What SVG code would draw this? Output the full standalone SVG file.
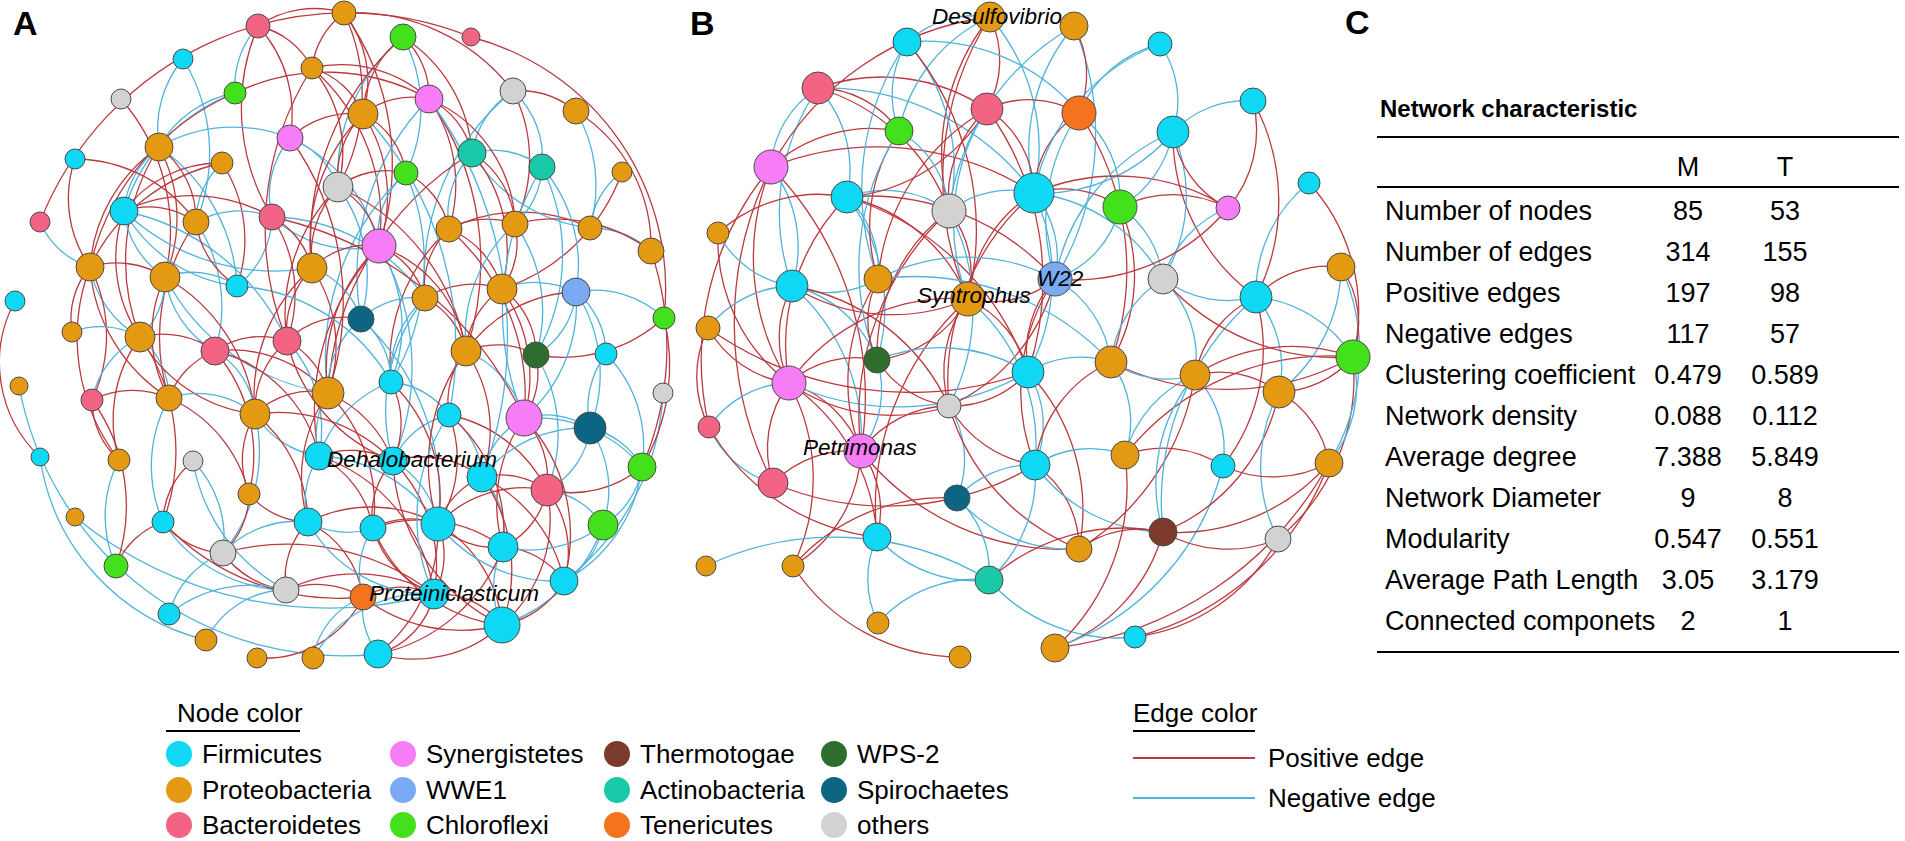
<svg xmlns="http://www.w3.org/2000/svg" width="1905" height="841" viewBox="0 0 1905 841">
<style>
.p{fill:none;stroke:#BB3A3F;stroke-width:1.3}
.n{fill:none;stroke:#4FB3DB;stroke-width:1.3}
.nd circle{stroke:#4a4a4a;stroke-width:1}
.F{fill:#0ED8F3}.P{fill:#E39A12}.B{fill:#F26384}.S{fill:#F77DF6}.W{fill:#7BAAF4}.C{fill:#43E01C}.Th{fill:#7B3A2A}.A{fill:#19C9A7}.T{fill:#F5721F}.WP{fill:#2F6D2F}.Sp{fill:#0C6683}.O{fill:#D2D2D2}
text{font-family:"Liberation Sans",Arial,sans-serif;fill:#000}
.lab{font-size:22.5px;font-style:italic}
.panel{font-size:34px;font-weight:bold}
.tb{font-size:27px}
.th{font-size:24px;font-weight:bold}
.lg{font-size:26px}
.rule{stroke:#000;stroke-width:2}
</style>
<rect width="1905" height="841" fill="#fff"/>
<text class="panel" x="13" y="35">A</text>
<text class="panel" x="690" y="35">B</text>
<text class="panel" x="1345" y="34">C</text>
<g id="edges-A">
<path class="p" d="M40 222A330 330 0 0 1 471 37"/>
<path class="p" d="M471 37A260 260 0 0 1 664 318"/>
<path class="p" d="M15 301A130 130 0 0 0 40 457"/>
<path class="n" d="M19 386A330 330 0 0 0 378 654"/>
<path class="n" d="M40 457A220 220 0 0 0 206 640"/>
<path class="n" d="M75 517A400 400 0 0 0 434 594"/>
<path class="n" d="M663 393A250 250 0 0 1 564 581"/>
<path class="p" d="M664 318A200 200 0 0 1 642 467"/>
<path class="p" d="M651 251A300 300 0 0 1 642 467"/>
<path class="n" d="M576 111A150 150 0 0 1 590 228"/>
<path class="p" d="M576 111A160 160 0 0 1 651 251"/>
<path class="n" d="M622 172A80 80 0 0 0 590 228"/>
<path class="p" d="M622 172A190 190 0 0 1 502 289"/>
<path class="n" d="M590 228A90 90 0 0 1 651 251"/>
<path class="p" d="M590 228A160 160 0 0 0 449 229"/>
<path class="n" d="M590 228A160 160 0 0 1 472 153"/>
<path class="p" d="M651 251A160 160 0 0 0 515 224"/>
<path class="p" d="M576 111A90 90 0 0 0 513 91"/>
<path class="p" d="M258 26A130 130 0 0 1 290 138"/>
<path class="p" d="M258 26A210 210 0 0 0 272 217"/>
<path class="n" d="M258 26A90 90 0 0 0 235 93"/>
<path class="p" d="M258 26A80 80 0 0 1 312 68"/>
<path class="p" d="M258 26A100 100 0 0 1 344 13"/>
<path class="n" d="M183 59A110 110 0 0 0 159 147"/>
<path class="n" d="M183 59A180 180 0 0 1 196 222"/>
<path class="n" d="M235 93A110 110 0 0 0 159 147"/>
<path class="n" d="M235 93A180 180 0 0 0 124 211"/>
<path class="p" d="M235 93A250 250 0 0 0 90 267"/>
<path class="p" d="M235 93A210 210 0 0 1 429 99"/>
<path class="p" d="M121 99A200 200 0 0 1 165 277"/>
<path class="n" d="M290 138A150 150 0 0 0 159 147"/>
<path class="p" d="M290 138A90 90 0 0 1 363 114"/>
<path class="n" d="M290 138A90 90 0 0 0 272 217"/>
<path class="n" d="M290 138A80 80 0 0 1 338 187"/>
<path class="n" d="M290 138A160 160 0 0 1 379 246"/>
<path class="p" d="M159 147A160 160 0 0 0 90 267"/>
<path class="p" d="M159 147A150 150 0 0 1 165 277"/>
<path class="n" d="M159 147A90 90 0 0 0 124 211"/>
<path class="n" d="M159 147A180 180 0 0 1 237 286"/>
<path class="p" d="M159 147A210 210 0 0 0 140 337"/>
<path class="p" d="M75 159A120 120 0 0 0 90 267"/>
<path class="p" d="M75 159A150 150 0 0 1 196 222"/>
<path class="p" d="M222 163A120 120 0 0 0 124 211"/>
<path class="p" d="M222 163A190 190 0 0 0 90 267"/>
<path class="n" d="M222 163A80 80 0 0 0 196 222"/>
<path class="p" d="M222 163A140 140 0 0 1 237 286"/>
<path class="n" d="M40 222A80 80 0 0 0 90 267"/>
<path class="n" d="M124 211A90 90 0 0 0 165 277"/>
<path class="n" d="M124 211A150 150 0 0 0 237 286"/>
<path class="p" d="M124 211A80 80 0 0 1 196 222"/>
<path class="p" d="M124 211A160 160 0 0 1 272 217"/>
<path class="p" d="M124 211A140 140 0 0 0 140 337"/>
<path class="n" d="M124 211A220 220 0 0 0 312 268"/>
<path class="n" d="M124 211A230 230 0 0 1 287 341"/>
<path class="n" d="M196 222A150 150 0 0 1 215 351"/>
<path class="n" d="M196 222A90 90 0 0 1 272 217"/>
<path class="p" d="M196 222A90 90 0 0 0 237 286"/>
<path class="p" d="M196 222A200 200 0 0 0 169 398"/>
<path class="n" d="M272 217A90 90 0 0 1 237 286"/>
<path class="n" d="M272 217A120 120 0 0 0 379 246"/>
<path class="p" d="M272 217A80 80 0 0 1 312 268"/>
<path class="n" d="M272 217A190 190 0 0 1 425 298"/>
<path class="p" d="M272 217A140 140 0 0 1 287 341"/>
<path class="p" d="M90 267A90 90 0 0 1 165 277"/>
<path class="n" d="M90 267A100 100 0 0 0 140 337"/>
<path class="p" d="M90 267A150 150 0 0 1 92 400"/>
<path class="p" d="M90 267A170 170 0 0 0 169 398"/>
<path class="n" d="M165 277A80 80 0 0 1 140 337"/>
<path class="n" d="M165 277A100 100 0 0 0 215 351"/>
<path class="n" d="M165 277A80 80 0 0 1 237 286"/>
<path class="p" d="M165 277A180 180 0 0 1 255 414"/>
<path class="p" d="M344 13A80 80 0 0 0 312 68"/>
<path class="p" d="M344 13A110 110 0 0 1 363 114"/>
<path class="p" d="M344 13A190 190 0 0 1 338 187"/>
<path class="p" d="M344 13A200 200 0 0 1 513 91"/>
<path class="p" d="M344 13A260 260 0 0 1 379 246"/>
<path class="p" d="M403 37A100 100 0 0 0 363 114"/>
<path class="n" d="M403 37A180 180 0 0 0 338 187"/>
<path class="p" d="M403 37A270 270 0 0 0 312 268"/>
<path class="n" d="M403 37A150 150 0 0 1 406 173"/>
<path class="p" d="M403 37A150 150 0 0 1 472 153"/>
<path class="p" d="M312 68A80 80 0 0 1 363 114"/>
<path class="p" d="M312 68A130 130 0 0 1 338 187"/>
<path class="p" d="M312 68A200 200 0 0 1 379 246"/>
<path class="p" d="M312 68A130 130 0 0 1 429 99"/>
<path class="n" d="M513 91A90 90 0 0 0 472 153"/>
<path class="n" d="M513 91A90 90 0 0 1 542 167"/>
<path class="n" d="M513 91A240 240 0 0 0 425 298"/>
<path class="p" d="M513 91A150 150 0 0 1 515 224"/>
<path class="p" d="M429 99A80 80 0 0 0 363 114"/>
<path class="p" d="M429 99A80 80 0 0 1 472 153"/>
<path class="p" d="M429 99A150 150 0 0 1 449 229"/>
<path class="p" d="M429 99A280 280 0 0 1 466 351"/>
<path class="n" d="M429 99A250 250 0 0 0 361 319"/>
<path class="p" d="M363 114A90 90 0 0 0 338 187"/>
<path class="p" d="M363 114A180 180 0 0 0 312 268"/>
<path class="p" d="M363 114A150 150 0 0 1 379 246"/>
<path class="p" d="M363 114A80 80 0 0 1 406 173"/>
<path class="n" d="M472 153A80 80 0 0 1 542 167"/>
<path class="p" d="M472 153A90 90 0 0 1 515 224"/>
<path class="p" d="M472 153A150 150 0 0 1 502 289"/>
<path class="p" d="M472 153A300 300 0 0 0 328 393"/>
<path class="n" d="M542 167A80 80 0 0 1 515 224"/>
<path class="n" d="M542 167A200 200 0 0 1 536 355"/>
<path class="n" d="M542 167A280 280 0 0 0 524 418"/>
<path class="n" d="M542 167A150 150 0 0 1 576 292"/>
<path class="n" d="M406 173A80 80 0 0 0 379 246"/>
<path class="p" d="M406 173A80 80 0 0 0 338 187"/>
<path class="p" d="M406 173A80 80 0 0 1 449 229"/>
<path class="n" d="M406 173A250 250 0 0 0 328 393"/>
<path class="n" d="M406 173A230 230 0 0 1 391 382"/>
<path class="p" d="M338 187A100 100 0 0 0 312 268"/>
<path class="p" d="M338 187A180 180 0 0 0 287 341"/>
<path class="n" d="M338 187A150 150 0 0 1 361 319"/>
<path class="p" d="M449 229A80 80 0 0 1 515 224"/>
<path class="p" d="M449 229A90 90 0 0 1 502 289"/>
<path class="p" d="M449 229A180 180 0 0 0 391 382"/>
<path class="p" d="M449 229A220 220 0 0 1 524 418"/>
<path class="p" d="M515 224A80 80 0 0 1 502 289"/>
<path class="n" d="M515 224A150 150 0 0 0 466 351"/>
<path class="n" d="M515 224A150 150 0 0 1 536 355"/>
<path class="p" d="M379 246A80 80 0 0 0 312 268"/>
<path class="p" d="M379 246A80 80 0 0 1 425 298"/>
<path class="p" d="M379 246A170 170 0 0 0 328 393"/>
<path class="n" d="M379 246A150 150 0 0 1 391 382"/>
<path class="p" d="M379 246A240 240 0 0 0 319 456"/>
<path class="n" d="M379 246A240 240 0 0 1 393 461"/>
<path class="p" d="M312 268A90 90 0 0 0 287 341"/>
<path class="p" d="M312 268A170 170 0 0 0 255 414"/>
<path class="n" d="M312 268A80 80 0 0 1 361 319"/>
<path class="p" d="M312 268A140 140 0 0 1 328 393"/>
<path class="n" d="M72 332A80 80 0 0 1 140 337"/>
<path class="p" d="M72 332A80 80 0 0 1 90 267"/>
<path class="p" d="M140 337A90 90 0 0 1 215 351"/>
<path class="n" d="M140 337A90 90 0 0 0 92 400"/>
<path class="n" d="M140 337A80 80 0 0 1 169 398"/>
<path class="p" d="M140 337A200 200 0 0 1 163 522"/>
<path class="p" d="M215 351A80 80 0 0 1 287 341"/>
<path class="p" d="M215 351A80 80 0 0 0 169 398"/>
<path class="n" d="M215 351A80 80 0 0 1 255 414"/>
<path class="p" d="M215 351A130 130 0 0 1 328 393"/>
<path class="p" d="M215 351A160 160 0 0 1 249 494"/>
<path class="p" d="M287 341A90 90 0 0 0 255 414"/>
<path class="n" d="M287 341A130 130 0 0 1 319 456"/>
<path class="p" d="M287 341A80 80 0 0 1 328 393"/>
<path class="p" d="M92 400A90 90 0 0 1 169 398"/>
<path class="p" d="M92 400A180 180 0 0 1 116 566"/>
<path class="p" d="M92 400A80 80 0 0 0 119 460"/>
<path class="p" d="M169 398A140 140 0 0 1 249 494"/>
<path class="n" d="M169 398A140 140 0 0 0 163 522"/>
<path class="n" d="M255 414A90 90 0 0 0 319 456"/>
<path class="p" d="M255 414A140 140 0 0 1 308 522"/>
<path class="p" d="M255 414A90 90 0 0 0 249 494"/>
<path class="n" d="M255 414A160 160 0 0 1 223 553"/>
<path class="p" d="M255 414A160 160 0 0 1 393 461"/>
<path class="n" d="M119 460A120 120 0 0 0 116 566"/>
<path class="p" d="M119 460A140 140 0 0 1 140 337"/>
<path class="p" d="M193 461A80 80 0 0 0 163 522"/>
<path class="n" d="M193 461A180 180 0 0 0 286 590"/>
<path class="n" d="M193 461A110 110 0 0 1 223 553"/>
<path class="p" d="M249 494A80 80 0 0 1 223 553"/>
<path class="p" d="M249 494A80 80 0 0 0 308 522"/>
<path class="p" d="M163 522A80 80 0 0 0 223 553"/>
<path class="n" d="M163 522A150 150 0 0 0 286 590"/>
<path class="p" d="M163 522A240 240 0 0 0 363 597"/>
<path class="p" d="M223 553A90 90 0 0 0 286 590"/>
<path class="p" d="M223 553A240 240 0 0 1 434 594"/>
<path class="n" d="M223 553A100 100 0 0 1 308 522"/>
<path class="n" d="M425 298A80 80 0 0 0 361 319"/>
<path class="p" d="M425 298A80 80 0 0 1 466 351"/>
<path class="n" d="M425 298A100 100 0 0 0 391 382"/>
<path class="p" d="M425 298A90 90 0 0 1 502 289"/>
<path class="p" d="M502 289A80 80 0 0 0 466 351"/>
<path class="p" d="M502 289A80 80 0 0 1 536 355"/>
<path class="n" d="M502 289A90 90 0 0 1 576 292"/>
<path class="p" d="M502 289A150 150 0 0 1 524 418"/>
<path class="n" d="M361 319A80 80 0 0 1 391 382"/>
<path class="n" d="M361 319A90 90 0 0 0 328 393"/>
<path class="p" d="M466 351A80 80 0 0 1 536 355"/>
<path class="p" d="M466 351A80 80 0 0 0 449 415"/>
<path class="n" d="M466 351A100 100 0 0 1 524 418"/>
<path class="p" d="M466 351A140 140 0 0 1 482 477"/>
<path class="p" d="M536 355A80 80 0 0 1 524 418"/>
<path class="n" d="M536 355A80 80 0 0 0 576 292"/>
<path class="n" d="M536 355A150 150 0 0 1 547 490"/>
<path class="p" d="M536 355A150 150 0 0 0 664 318"/>
<path class="n" d="M391 382A80 80 0 0 1 449 415"/>
<path class="p" d="M391 382A90 90 0 0 1 393 461"/>
<path class="n" d="M391 382A120 120 0 0 0 319 456"/>
<path class="n" d="M328 393A80 80 0 0 0 319 456"/>
<path class="p" d="M328 393A150 150 0 0 0 308 522"/>
<path class="p" d="M328 393A160 160 0 0 1 373 528"/>
<path class="n" d="M449 415A80 80 0 0 0 393 461"/>
<path class="n" d="M449 415A80 80 0 0 1 482 477"/>
<path class="p" d="M449 415A120 120 0 0 1 438 524"/>
<path class="p" d="M449 415A140 140 0 0 1 547 490"/>
<path class="n" d="M524 418A80 80 0 0 0 482 477"/>
<path class="p" d="M524 418A90 90 0 0 1 547 490"/>
<path class="n" d="M524 418A80 80 0 0 1 590 428"/>
<path class="n" d="M524 418A140 140 0 0 1 642 467"/>
<path class="p" d="M524 418A150 150 0 0 0 503 547"/>
<path class="n" d="M524 418A150 150 0 0 0 576 292"/>
<path class="n" d="M319 456A80 80 0 0 0 308 522"/>
<path class="p" d="M319 456A100 100 0 0 1 373 528"/>
<path class="n" d="M319 456A150 150 0 0 1 438 524"/>
<path class="p" d="M393 461A80 80 0 0 0 373 528"/>
<path class="n" d="M393 461A90 90 0 0 1 438 524"/>
<path class="p" d="M393 461A150 150 0 0 1 434 594"/>
<path class="p" d="M482 477A80 80 0 0 0 438 524"/>
<path class="n" d="M482 477A80 80 0 0 1 503 547"/>
<path class="p" d="M482 477A80 80 0 0 1 547 490"/>
<path class="p" d="M482 477A150 150 0 0 1 564 581"/>
<path class="p" d="M547 490A80 80 0 0 1 503 547"/>
<path class="n" d="M547 490A80 80 0 0 0 590 428"/>
<path class="p" d="M547 490A110 110 0 0 0 642 467"/>
<path class="n" d="M547 490A80 80 0 0 1 603 525"/>
<path class="p" d="M547 490A100 100 0 0 1 564 581"/>
<path class="n" d="M308 522A80 80 0 0 0 373 528"/>
<path class="p" d="M308 522A80 80 0 0 0 286 590"/>
<path class="p" d="M308 522A100 100 0 0 1 363 597"/>
<path class="p" d="M373 528A80 80 0 0 1 438 524"/>
<path class="p" d="M373 528A100 100 0 0 0 434 594"/>
<path class="n" d="M373 528A80 80 0 0 0 363 597"/>
<path class="p" d="M438 524A80 80 0 0 0 503 547"/>
<path class="p" d="M438 524A130 130 0 0 1 502 625"/>
<path class="p" d="M438 524A80 80 0 0 1 434 594"/>
<path class="n" d="M438 524A150 150 0 0 0 564 581"/>
<path class="p" d="M503 547A80 80 0 0 1 564 581"/>
<path class="n" d="M503 547A90 90 0 0 0 502 625"/>
<path class="n" d="M503 547A120 120 0 0 0 603 525"/>
<path class="n" d="M576 292A80 80 0 0 1 606 354"/>
<path class="n" d="M576 292A100 100 0 0 1 664 318"/>
<path class="n" d="M576 292A150 150 0 0 1 590 428"/>
<path class="p" d="M576 292A140 140 0 0 0 466 351"/>
<path class="n" d="M606 354A90 90 0 0 0 590 428"/>
<path class="n" d="M606 354A130 130 0 0 1 642 467"/>
<path class="n" d="M590 428A80 80 0 0 1 642 467"/>
<path class="n" d="M590 428A110 110 0 0 1 603 525"/>
<path class="n" d="M590 428A130 130 0 0 0 482 477"/>
<path class="n" d="M642 467A80 80 0 0 1 603 525"/>
<path class="n" d="M642 467A150 150 0 0 1 564 581"/>
<path class="n" d="M603 525A80 80 0 0 1 564 581"/>
<path class="n" d="M603 525A160 160 0 0 1 502 625"/>
<path class="p" d="M286 590A90 90 0 0 1 363 597"/>
<path class="p" d="M286 590A160 160 0 0 1 434 594"/>
<path class="n" d="M286 590A130 130 0 0 0 169 614"/>
<path class="p" d="M363 597A80 80 0 0 1 434 594"/>
<path class="p" d="M363 597A160 160 0 0 0 502 625"/>
<path class="n" d="M363 597A80 80 0 0 0 378 654"/>
<path class="p" d="M434 594A80 80 0 0 1 502 625"/>
<path class="p" d="M434 594A80 80 0 0 1 378 654"/>
<path class="p" d="M502 625A130 130 0 0 1 378 654"/>
<path class="p" d="M502 625A90 90 0 0 0 564 581"/>
<path class="n" d="M169 614A90 90 0 0 1 223 553"/>
<path class="p" d="M257 658A110 110 0 0 0 363 597"/>
<path class="n" d="M313 658A130 130 0 0 1 434 594"/>
<path class="n" d="M313 658A80 80 0 0 1 363 597"/>
<path class="n" d="M206 640A90 90 0 0 1 286 590"/>
<path class="p" d="M378 654A160 160 0 0 0 438 524"/>
<path class="p" d="M378 654A170 170 0 0 0 503 547"/>
<path class="p" d="M116 566A80 80 0 0 1 163 522"/>
<path class="p" d="M272 217A360 360 0 0 1 524 418"/>
<path class="n" d="M237 286A190 190 0 0 1 391 382"/>
<path class="p" d="M287 341A170 170 0 0 0 393 461"/>
<path class="n" d="M361 319A240 240 0 0 1 438 524"/>
<path class="p" d="M338 187A220 220 0 0 1 466 351"/>
<path class="n" d="M363 114A340 340 0 0 1 449 415"/>
<path class="p" d="M290 138A280 280 0 0 1 328 393"/>
<path class="n" d="M429 99A400 400 0 0 1 482 477"/>
<path class="p" d="M312 68A300 300 0 0 0 287 341"/>
<path class="n" d="M165 277A220 220 0 0 0 328 393"/>
<path class="p" d="M140 337A150 150 0 0 0 255 414"/>
<path class="p" d="M328 393A120 120 0 0 1 393 461"/>
<path class="p" d="M319 456A90 90 0 0 1 393 461"/>
<path class="p" d="M393 461A100 100 0 0 1 482 477"/>
<path class="p" d="M391 382A160 160 0 0 1 438 524"/>
<path class="p" d="M449 415A150 150 0 0 1 503 547"/>
<path class="p" d="M482 477A160 160 0 0 1 502 625"/>
<path class="p" d="M438 524A120 120 0 0 1 547 490"/>
<path class="p" d="M373 528A140 140 0 0 1 503 547"/>
<path class="p" d="M308 522A140 140 0 0 1 438 524"/>
<path class="p" d="M319 456A170 170 0 0 1 434 594"/>
<path class="p" d="M393 461A190 190 0 0 0 502 625"/>
<path class="p" d="M373 528A160 160 0 0 0 502 625"/>
<path class="n" d="M308 522A140 140 0 0 0 434 594"/>
<path class="p" d="M466 351A190 190 0 0 0 438 524"/>
<path class="n" d="M425 298A180 180 0 0 0 393 461"/>
<path class="p" d="M379 246A130 130 0 0 1 466 351"/>
<path class="p" d="M449 229A80 80 0 0 0 425 298"/>
<path class="n" d="M472 153A90 90 0 0 0 449 229"/>
<path class="p" d="M429 99A140 140 0 0 1 515 224"/>
<path class="p" d="M403 37A80 80 0 0 1 429 99"/>
<path class="p" d="M338 187A80 80 0 0 1 379 246"/>
<path class="p" d="M287 341A80 80 0 0 1 361 319"/>
<path class="p" d="M255 414A80 80 0 0 1 328 393"/>
<path class="p" d="M215 351A140 140 0 0 1 319 456"/>
<path class="n" d="M169 398A90 90 0 0 1 255 414"/>
<path class="p" d="M165 277A130 130 0 0 0 169 398"/>
<path class="p" d="M90 267A200 200 0 0 0 119 460"/>
<path class="p" d="M159 147A90 90 0 0 1 196 222"/>
<path class="p" d="M547 490A140 140 0 0 1 502 625"/>
<path class="p" d="M524 418A170 170 0 0 1 564 581"/>
<path class="n" d="M449 415A180 180 0 0 0 434 594"/>
</g>
<g id="edges-B">
<path class="n" d="M818 88A120 120 0 0 1 847 197"/>
<path class="n" d="M818 88A100 100 0 0 0 771 167"/>
<path class="p" d="M818 88A190 190 0 0 1 987 109"/>
<path class="p" d="M818 88A100 100 0 0 1 899 131"/>
<path class="p" d="M818 88A200 200 0 0 1 949 211"/>
<path class="n" d="M818 88A260 260 0 0 1 1034 193"/>
<path class="n" d="M818 88A220 220 0 0 0 792 286"/>
<path class="p" d="M771 167A240 240 0 0 0 789 383"/>
<path class="p" d="M771 167A350 350 0 0 0 773 483"/>
<path class="p" d="M771 167A330 330 0 0 1 861 451"/>
<path class="p" d="M771 167A300 300 0 0 0 709 427"/>
<path class="p" d="M771 167A290 290 0 0 1 1034 193"/>
<path class="n" d="M771 167A130 130 0 0 1 792 286"/>
<path class="p" d="M771 167A150 150 0 0 1 899 131"/>
<path class="p" d="M718 233A150 150 0 0 1 847 197"/>
<path class="n" d="M718 233A100 100 0 0 0 792 286"/>
<path class="n" d="M847 197A110 110 0 0 1 949 211"/>
<path class="n" d="M847 197A100 100 0 0 1 878 279"/>
<path class="p" d="M847 197A170 170 0 0 1 968 299"/>
<path class="p" d="M847 197A250 250 0 0 1 1055 279"/>
<path class="n" d="M847 197A180 180 0 0 1 877 360"/>
<path class="p" d="M847 197A180 180 0 0 0 987 109"/>
<path class="p" d="M847 197A280 280 0 0 1 1028 372"/>
<path class="p" d="M792 286A110 110 0 0 0 789 383"/>
<path class="n" d="M792 286A100 100 0 0 0 878 279"/>
<path class="n" d="M792 286A120 120 0 0 1 877 360"/>
<path class="p" d="M792 286A210 210 0 0 1 949 406"/>
<path class="p" d="M792 286A190 190 0 0 0 968 299"/>
<path class="n" d="M792 286A200 200 0 0 1 861 451"/>
<path class="n" d="M708 328A110 110 0 0 1 792 286"/>
<path class="p" d="M708 328A350 350 0 0 0 1028 372"/>
<path class="n" d="M709 427A100 100 0 0 1 789 383"/>
<path class="p" d="M789 383A110 110 0 0 0 773 483"/>
<path class="p" d="M789 383A110 110 0 0 1 861 451"/>
<path class="p" d="M789 383A200 200 0 0 1 877 537"/>
<path class="p" d="M789 383A100 100 0 0 1 877 360"/>
<path class="p" d="M789 383A200 200 0 0 1 968 299"/>
<path class="n" d="M789 383A260 260 0 0 0 1028 372"/>
<path class="p" d="M789 383A180 180 0 0 0 949 406"/>
<path class="p" d="M789 383A200 200 0 0 1 793 566"/>
<path class="p" d="M773 483A110 110 0 0 1 861 451"/>
<path class="p" d="M773 483A290 290 0 0 0 1035 465"/>
<path class="n" d="M773 483A100 100 0 0 1 709 427"/>
<path class="p" d="M861 451A100 100 0 0 1 877 537"/>
<path class="p" d="M861 451A110 110 0 0 1 949 406"/>
<path class="n" d="M861 451A100 100 0 0 0 877 360"/>
<path class="p" d="M861 451A190 190 0 0 1 878 279"/>
<path class="p" d="M861 451A260 260 0 0 0 1079 549"/>
<path class="p" d="M861 451A140 140 0 0 1 793 566"/>
<path class="n" d="M990 17A100 100 0 0 0 907 42"/>
<path class="p" d="M990 17A220 220 0 0 0 949 211"/>
<path class="n" d="M990 17A200 200 0 0 1 1034 193"/>
<path class="p" d="M990 17A100 100 0 0 1 987 109"/>
<path class="p" d="M990 17A300 300 0 0 0 968 299"/>
<path class="n" d="M990 17A160 160 0 0 0 899 131"/>
<path class="p" d="M990 17A290 290 0 0 0 771 167"/>
<path class="n" d="M1074 26A190 190 0 0 0 1034 193"/>
<path class="n" d="M1074 26A280 280 0 0 1 1055 279"/>
<path class="p" d="M1074 26A100 100 0 0 1 1079 113"/>
<path class="n" d="M1074 26A250 250 0 0 0 949 211"/>
<path class="n" d="M907 42A190 190 0 0 1 949 211"/>
<path class="n" d="M907 42A100 100 0 0 0 899 131"/>
<path class="n" d="M907 42A200 200 0 0 1 1079 113"/>
<path class="p" d="M907 42A290 290 0 0 1 968 299"/>
<path class="n" d="M907 42A260 260 0 0 0 878 279"/>
<path class="p" d="M987 109A100 100 0 0 1 1034 193"/>
<path class="p" d="M987 109A120 120 0 0 0 949 211"/>
<path class="p" d="M987 109A100 100 0 0 1 1079 113"/>
<path class="n" d="M987 109A210 210 0 0 0 968 299"/>
<path class="p" d="M987 109A290 290 0 0 1 1028 372"/>
<path class="p" d="M987 109A220 220 0 0 0 878 279"/>
<path class="p" d="M1079 113A100 100 0 0 0 1034 193"/>
<path class="n" d="M1079 113A110 110 0 0 1 1120 207"/>
<path class="n" d="M1079 113A190 190 0 0 0 1055 279"/>
<path class="p" d="M1079 113A280 280 0 0 1 1111 362"/>
<path class="n" d="M899 131A100 100 0 0 1 949 211"/>
<path class="p" d="M899 131A170 170 0 0 0 878 279"/>
<path class="n" d="M899 131A250 250 0 0 0 877 360"/>
<path class="p" d="M949 211A100 100 0 0 1 968 299"/>
<path class="n" d="M949 211A100 100 0 0 1 1034 193"/>
<path class="p" d="M949 211A180 180 0 0 0 877 360"/>
<path class="n" d="M949 211A210 210 0 0 1 949 406"/>
<path class="p" d="M949 211A280 280 0 0 0 861 451"/>
<path class="p" d="M1034 193A100 100 0 0 1 1120 207"/>
<path class="n" d="M1034 193A100 100 0 0 1 1055 279"/>
<path class="p" d="M1034 193A140 140 0 0 0 968 299"/>
<path class="n" d="M1034 193A200 200 0 0 1 1028 372"/>
<path class="n" d="M1034 193A170 170 0 0 0 1173 132"/>
<path class="p" d="M1034 193A210 210 0 0 1 1228 208"/>
<path class="n" d="M1034 193A170 170 0 0 1 1163 279"/>
<path class="p" d="M1034 193A250 250 0 0 0 949 406"/>
<path class="n" d="M1120 207A100 100 0 0 1 1055 279"/>
<path class="n" d="M1120 207A100 100 0 0 1 1163 279"/>
<path class="n" d="M1120 207A110 110 0 0 0 1173 132"/>
<path class="p" d="M1120 207A120 120 0 0 1 1228 208"/>
<path class="p" d="M1120 207A170 170 0 0 1 1111 362"/>
<path class="p" d="M1055 279A110 110 0 0 0 1028 372"/>
<path class="p" d="M1055 279A100 100 0 0 1 968 299"/>
<path class="p" d="M1055 279A190 190 0 0 1 949 406"/>
<path class="p" d="M1055 279A200 200 0 0 0 1035 465"/>
<path class="n" d="M1055 279A190 190 0 0 0 878 279"/>
<path class="n" d="M1055 279A110 110 0 0 1 1111 362"/>
<path class="p" d="M968 299A110 110 0 0 1 1028 372"/>
<path class="p" d="M968 299A120 120 0 0 0 949 406"/>
<path class="p" d="M968 299A120 120 0 0 1 877 360"/>
<path class="p" d="M968 299A280 280 0 0 0 877 537"/>
<path class="n" d="M968 299A190 190 0 0 1 1035 465"/>
<path class="p" d="M878 279A90 90 0 0 0 877 360"/>
<path class="n" d="M878 279A270 270 0 0 1 1111 362"/>
<path class="p" d="M877 360A100 100 0 0 0 949 406"/>
<path class="n" d="M877 360A170 170 0 0 1 1028 372"/>
<path class="n" d="M1028 372A100 100 0 0 1 1035 465"/>
<path class="n" d="M1028 372A100 100 0 0 1 1111 362"/>
<path class="p" d="M1028 372A100 100 0 0 1 949 406"/>
<path class="p" d="M1028 372A200 200 0 0 1 1079 549"/>
<path class="p" d="M949 406A120 120 0 0 0 1035 465"/>
<path class="n" d="M949 406A100 100 0 0 1 957 498"/>
<path class="p" d="M949 406A220 220 0 0 0 1079 549"/>
<path class="n" d="M957 498A100 100 0 0 1 1035 465"/>
<path class="n" d="M957 498A100 100 0 0 1 989 580"/>
<path class="n" d="M957 498A150 150 0 0 0 1079 549"/>
<path class="p" d="M957 498A200 200 0 0 0 793 566"/>
<path class="p" d="M1035 465A100 100 0 0 1 1079 549"/>
<path class="n" d="M1035 465A100 100 0 0 1 1125 455"/>
<path class="n" d="M1035 465A140 140 0 0 1 989 580"/>
<path class="n" d="M1035 465A160 160 0 0 0 1163 532"/>
<path class="n" d="M877 537A100 100 0 0 0 878 623"/>
<path class="n" d="M877 537A130 130 0 0 0 989 580"/>
<path class="n" d="M706 566A300 300 0 0 1 989 580"/>
<path class="n" d="M878 623A130 130 0 0 1 989 580"/>
<path class="p" d="M793 566A200 200 0 0 0 960 657"/>
<path class="n" d="M989 580A170 170 0 0 0 1135 637"/>
<path class="p" d="M989 580A200 200 0 0 1 1163 532"/>
<path class="p" d="M1055 648A170 170 0 0 0 1163 532"/>
<path class="p" d="M1055 648A220 220 0 0 0 1125 455"/>
<path class="n" d="M1055 648A260 260 0 0 0 1223 466"/>
<path class="p" d="M1055 648A360 360 0 0 0 1329 463"/>
<path class="p" d="M1135 637A280 280 0 0 0 1329 463"/>
<path class="p" d="M1135 637A190 190 0 0 0 1278 539"/>
<path class="p" d="M1079 549A100 100 0 0 1 1163 532"/>
<path class="p" d="M1079 549A250 250 0 0 0 1195 375"/>
<path class="p" d="M1125 455A110 110 0 0 1 1223 466"/>
<path class="n" d="M1125 455A120 120 0 0 1 1195 375"/>
<path class="p" d="M1125 455A260 260 0 0 1 1353 357"/>
<path class="p" d="M1163 532A130 130 0 0 0 1278 539"/>
<path class="p" d="M1163 532A190 190 0 0 0 1279 392"/>
<path class="p" d="M1163 532A200 200 0 0 0 1329 463"/>
<path class="n" d="M1163 532A170 170 0 0 1 1195 375"/>
<path class="n" d="M1163 532A270 270 0 0 1 1256 297"/>
<path class="n" d="M1278 539A160 160 0 0 1 1279 392"/>
<path class="p" d="M1278 539A210 210 0 0 0 1353 357"/>
<path class="p" d="M1223 466A190 190 0 0 0 1256 297"/>
<path class="n" d="M1223 466A110 110 0 0 0 1195 375"/>
<path class="p" d="M1223 466A120 120 0 0 0 1329 463"/>
<path class="n" d="M1329 463A120 120 0 0 0 1353 357"/>
<path class="p" d="M1329 463A100 100 0 0 0 1279 392"/>
<path class="n" d="M1329 463A210 210 0 0 0 1341 267"/>
<path class="p" d="M1279 392A100 100 0 0 0 1195 375"/>
<path class="n" d="M1279 392A110 110 0 0 0 1256 297"/>
<path class="p" d="M1279 392A100 100 0 0 0 1353 357"/>
<path class="n" d="M1279 392A160 160 0 0 0 1341 267"/>
<path class="n" d="M1195 375A110 110 0 0 0 1163 279"/>
<path class="p" d="M1195 375A180 180 0 0 1 1353 357"/>
<path class="p" d="M1195 375A110 110 0 0 1 1256 297"/>
<path class="p" d="M1256 297A100 100 0 0 1 1341 267"/>
<path class="n" d="M1256 297A130 130 0 0 1 1353 357"/>
<path class="n" d="M1256 297A140 140 0 0 1 1309 183"/>
<path class="n" d="M1256 297A110 110 0 0 1 1163 279"/>
<path class="p" d="M1256 297A200 200 0 0 1 1173 132"/>
<path class="p" d="M1341 267A100 100 0 0 1 1353 357"/>
<path class="n" d="M1163 279A110 110 0 0 1 1228 208"/>
<path class="n" d="M1163 279A160 160 0 0 0 1173 132"/>
<path class="n" d="M1163 279A110 110 0 0 0 1111 362"/>
<path class="p" d="M1163 279A230 230 0 0 0 1353 357"/>
<path class="p" d="M1228 208A120 120 0 0 0 1253 101"/>
<path class="p" d="M1228 208A100 100 0 0 1 1173 132"/>
<path class="p" d="M1228 208A200 200 0 0 1 1055 279"/>
<path class="n" d="M1173 132A100 100 0 0 1 1253 101"/>
<path class="n" d="M1173 132A100 100 0 0 0 1160 44"/>
<path class="n" d="M1173 132A200 200 0 0 0 1055 279"/>
<path class="p" d="M1253 101A210 210 0 0 1 1256 297"/>
<path class="n" d="M1160 44A200 200 0 0 0 1034 193"/>
<path class="n" d="M1160 44A120 120 0 0 0 1079 113"/>
<path class="p" d="M1309 183A190 190 0 0 1 1353 357"/>
<path class="p" d="M1111 362A130 130 0 0 0 1035 465"/>
<path class="n" d="M1111 362A100 100 0 0 1 1125 455"/>
<path class="p" d="M1111 362A260 260 0 0 0 1353 357"/>
<path class="n" d="M1111 362A100 100 0 0 0 1195 375"/>
<path class="p" d="M709 427A220 220 0 0 0 877 537"/>
<path class="p" d="M708 328A110 110 0 0 0 709 427"/>
<path class="p" d="M718 233A180 180 0 0 0 789 383"/>
<path class="p" d="M708 328A110 110 0 0 0 789 383"/>
<path class="p" d="M847 197A210 210 0 0 0 789 383"/>
</g>
<g id="nodes-A" class="nd">
<g id="a1"><circle class="B" cx="258" cy="26" r="12"/></g>
<g id="a2"><circle class="F" cx="183" cy="59" r="10"/></g>
<g id="a3"><circle class="C" cx="235" cy="93" r="11"/></g>
<g id="a4"><circle class="O" cx="121" cy="99" r="10"/></g>
<g id="a5"><circle class="S" cx="290" cy="138" r="13"/></g>
<g id="a6"><circle class="P" cx="159" cy="147" r="14"/></g>
<g id="a7"><circle class="F" cx="75" cy="159" r="10"/></g>
<g id="a8"><circle class="P" cx="222" cy="163" r="11"/></g>
<g id="a9"><circle class="B" cx="40" cy="222" r="10"/></g>
<g id="a10"><circle class="F" cx="124" cy="211" r="14"/></g>
<g id="a11"><circle class="P" cx="196" cy="222" r="13"/></g>
<g id="a12"><circle class="B" cx="272" cy="217" r="13"/></g>
<g id="a13"><circle class="P" cx="90" cy="267" r="14"/></g>
<g id="a14"><circle class="P" cx="165" cy="277" r="15"/></g>
<g id="a15"><circle class="F" cx="237" cy="286" r="11"/></g>
<g id="a16"><circle class="P" cx="344" cy="13" r="12"/></g>
<g id="a17"><circle class="C" cx="403" cy="37" r="13"/></g>
<g id="a18"><circle class="B" cx="471" cy="37" r="9"/></g>
<g id="a19"><circle class="P" cx="312" cy="68" r="11"/></g>
<g id="a20"><circle class="O" cx="513" cy="91" r="13"/></g>
<g id="a21"><circle class="S" cx="429" cy="99" r="14"/></g>
<g id="a22"><circle class="P" cx="363" cy="114" r="15"/></g>
<g id="a23"><circle class="A" cx="472" cy="153" r="14"/></g>
<g id="a24"><circle class="A" cx="542" cy="167" r="13"/></g>
<g id="a25"><circle class="C" cx="406" cy="173" r="12"/></g>
<g id="a26"><circle class="O" cx="338" cy="187" r="15"/></g>
<g id="a27"><circle class="P" cx="449" cy="229" r="13"/></g>
<g id="a28"><circle class="P" cx="515" cy="224" r="13"/></g>
<g id="a29"><circle class="S" cx="379" cy="246" r="17"/></g>
<g id="a30"><circle class="P" cx="312" cy="268" r="15"/></g>
<g id="a31"><circle class="F" cx="15" cy="301" r="10"/></g>
<g id="a32"><circle class="P" cx="72" cy="332" r="10"/></g>
<g id="a33"><circle class="P" cx="140" cy="337" r="15"/></g>
<g id="a34"><circle class="B" cx="215" cy="351" r="14"/></g>
<g id="a35"><circle class="B" cx="287" cy="341" r="14"/></g>
<g id="a36"><circle class="P" cx="19" cy="386" r="9"/></g>
<g id="a37"><circle class="B" cx="92" cy="400" r="11"/></g>
<g id="a38"><circle class="P" cx="169" cy="398" r="13"/></g>
<g id="a39"><circle class="P" cx="255" cy="414" r="15"/></g>
<g id="a40"><circle class="F" cx="40" cy="457" r="9"/></g>
<g id="a41"><circle class="P" cx="119" cy="460" r="11"/></g>
<g id="a42"><circle class="O" cx="193" cy="461" r="10"/></g>
<g id="a43"><circle class="P" cx="249" cy="494" r="11"/></g>
<g id="a44"><circle class="P" cx="75" cy="517" r="9"/></g>
<g id="a45"><circle class="F" cx="163" cy="522" r="11"/></g>
<g id="a46"><circle class="O" cx="223" cy="553" r="13"/></g>
<g id="a47"><circle class="C" cx="116" cy="566" r="12"/></g>
<g id="a48"><circle class="P" cx="425" cy="298" r="13"/></g>
<g id="a49"><circle class="P" cx="502" cy="289" r="15"/></g>
<g id="a50"><circle class="Sp" cx="361" cy="319" r="13"/></g>
<g id="a51"><circle class="P" cx="466" cy="351" r="15"/></g>
<g id="a52"><circle class="WP" cx="536" cy="355" r="13"/></g>
<g id="a53"><circle class="F" cx="391" cy="382" r="12"/></g>
<g id="a54"><circle class="P" cx="328" cy="393" r="16"/></g>
<g id="a55"><circle class="F" cx="449" cy="415" r="12"/></g>
<g id="a56"><circle class="S" cx="524" cy="418" r="18"/></g>
<g id="a57"><circle class="F" cx="319" cy="456" r="14"/></g>
<g id="a58"><circle class="F" cx="393" cy="461" r="14"/></g>
<g id="a59"><circle class="F" cx="482" cy="477" r="15"/></g>
<g id="a60"><circle class="B" cx="547" cy="490" r="16"/></g>
<g id="a61"><circle class="F" cx="308" cy="522" r="14"/></g>
<g id="a62"><circle class="F" cx="373" cy="528" r="13"/></g>
<g id="a63"><circle class="F" cx="438" cy="524" r="17"/></g>
<g id="a64"><circle class="F" cx="503" cy="547" r="15"/></g>
<g id="a65"><circle class="W" cx="576" cy="292" r="14"/></g>
<g id="a66"><circle class="C" cx="664" cy="318" r="11"/></g>
<g id="a67"><circle class="F" cx="606" cy="354" r="11"/></g>
<g id="a68"><circle class="O" cx="663" cy="393" r="10"/></g>
<g id="a69"><circle class="Sp" cx="590" cy="428" r="16"/></g>
<g id="a70"><circle class="C" cx="642" cy="467" r="14"/></g>
<g id="a71"><circle class="C" cx="603" cy="525" r="15"/></g>
<g id="a72"><circle class="O" cx="286" cy="590" r="13"/></g>
<g id="a73"><circle class="T" cx="363" cy="597" r="13"/></g>
<g id="a74"><circle class="F" cx="434" cy="594" r="15"/></g>
<g id="a75"><circle class="F" cx="564" cy="581" r="14"/></g>
<g id="a76"><circle class="F" cx="502" cy="625" r="18"/></g>
<g id="a77"><circle class="F" cx="169" cy="614" r="11"/></g>
<g id="a78"><circle class="P" cx="206" cy="640" r="11"/></g>
<g id="a79"><circle class="P" cx="257" cy="658" r="10"/></g>
<g id="a80"><circle class="P" cx="313" cy="658" r="11"/></g>
<g id="a81"><circle class="F" cx="378" cy="654" r="14"/></g>
<g id="a82"><circle class="P" cx="576" cy="111" r="13"/></g>
<g id="a83"><circle class="P" cx="622" cy="172" r="10"/></g>
<g id="a84"><circle class="P" cx="590" cy="228" r="12"/></g>
<g id="a85"><circle class="P" cx="651" cy="251" r="13"/></g>
</g>
<g id="nodes-B" class="nd">
<g id="b1"><circle class="P" cx="718" cy="233" r="11"/></g>
<g id="b2"><circle class="B" cx="818" cy="88" r="16"/></g>
<g id="b3"><circle class="S" cx="771" cy="167" r="17"/></g>
<g id="b4"><circle class="F" cx="847" cy="197" r="16"/></g>
<g id="b5"><circle class="F" cx="792" cy="286" r="16"/></g>
<g id="b6"><circle class="P" cx="990" cy="17" r="15"/></g>
<g id="b7"><circle class="P" cx="1074" cy="26" r="14"/></g>
<g id="b8"><circle class="F" cx="907" cy="42" r="14"/></g>
<g id="b9"><circle class="B" cx="987" cy="109" r="16"/></g>
<g id="b10"><circle class="T" cx="1079" cy="113" r="17"/></g>
<g id="b11"><circle class="C" cx="899" cy="131" r="14"/></g>
<g id="b12"><circle class="O" cx="949" cy="211" r="17"/></g>
<g id="b13"><circle class="F" cx="1034" cy="193" r="20"/></g>
<g id="b14"><circle class="C" cx="1120" cy="207" r="17"/></g>
<g id="b15"><circle class="P" cx="878" cy="279" r="14"/></g>
<g id="b16"><circle class="W" cx="1055" cy="279" r="17"/></g>
<g id="b17"><circle class="P" cx="968" cy="299" r="17"/></g>
<g id="b18"><circle class="P" cx="708" cy="328" r="12"/></g>
<g id="b19"><circle class="S" cx="789" cy="383" r="17"/></g>
<g id="b20"><circle class="WP" cx="877" cy="360" r="13"/></g>
<g id="b21"><circle class="F" cx="1028" cy="372" r="16"/></g>
<g id="b22"><circle class="P" cx="1111" cy="362" r="16"/></g>
<g id="b23"><circle class="O" cx="949" cy="406" r="12"/></g>
<g id="b24"><circle class="B" cx="709" cy="427" r="11"/></g>
<g id="b25"><circle class="S" cx="861" cy="451" r="17"/></g>
<g id="b26"><circle class="F" cx="1035" cy="465" r="15"/></g>
<g id="b27"><circle class="B" cx="773" cy="483" r="15"/></g>
<g id="b28"><circle class="Sp" cx="957" cy="498" r="13"/></g>
<g id="b29"><circle class="F" cx="877" cy="537" r="14"/></g>
<g id="b30"><circle class="P" cx="1079" cy="549" r="13"/></g>
<g id="b31"><circle class="F" cx="1160" cy="44" r="12"/></g>
<g id="b32"><circle class="F" cx="1253" cy="101" r="13"/></g>
<g id="b33"><circle class="F" cx="1173" cy="132" r="16"/></g>
<g id="b34"><circle class="F" cx="1309" cy="183" r="11"/></g>
<g id="b35"><circle class="S" cx="1228" cy="208" r="12"/></g>
<g id="b36"><circle class="P" cx="1341" cy="267" r="14"/></g>
<g id="b37"><circle class="O" cx="1163" cy="279" r="15"/></g>
<g id="b38"><circle class="F" cx="1256" cy="297" r="16"/></g>
<g id="b39"><circle class="C" cx="1353" cy="357" r="17"/></g>
<g id="b40"><circle class="P" cx="1195" cy="375" r="15"/></g>
<g id="b41"><circle class="P" cx="1279" cy="392" r="16"/></g>
<g id="b42"><circle class="P" cx="1125" cy="455" r="14"/></g>
<g id="b43"><circle class="F" cx="1223" cy="466" r="12"/></g>
<g id="b44"><circle class="P" cx="1329" cy="463" r="14"/></g>
<g id="b45"><circle class="Th" cx="1163" cy="532" r="14"/></g>
<g id="b46"><circle class="O" cx="1278" cy="539" r="13"/></g>
<g id="b47"><circle class="P" cx="878" cy="623" r="11"/></g>
<g id="b48"><circle class="P" cx="960" cy="657" r="11"/></g>
<g id="b49"><circle class="A" cx="989" cy="580" r="14"/></g>
<g id="b50"><circle class="P" cx="1055" cy="648" r="14"/></g>
<g id="b51"><circle class="F" cx="1135" cy="637" r="11"/></g>
<g id="b52"><circle class="P" cx="793" cy="566" r="11"/></g>
<g id="b53"><circle class="P" cx="706" cy="566" r="10"/></g>
</g>
<g id="labels">
<text class="lab" x="327" y="467">Dehalobacterium</text>
<text class="lab" x="369" y="601">Proteiniclasticum</text>
<text class="lab" x="932" y="24">Desulfovibrio</text>
<text class="lab" x="917" y="303">Syntrophus</text>
<text class="lab" x="1037" y="286">W22</text>
<text class="lab" x="803" y="455">Petrimonas</text>
</g>
<g id="table">
<text class="th" x="1380" y="117">Network characteristic</text>
<line class="rule" x1="1377" y1="137" x2="1899" y2="137"/>
<line class="rule" x1="1377" y1="187" x2="1899" y2="187"/>
<line class="rule" x1="1377" y1="652" x2="1899" y2="652"/>
<g class="tb" text-anchor="middle">
<text x="1688" y="176">M</text><text x="1785" y="176">T</text>
<text x="1688" y="220">85</text><text x="1785" y="220">53</text>
<text x="1688" y="261">314</text><text x="1785" y="261">155</text>
<text x="1688" y="302">197</text><text x="1785" y="302">98</text>
<text x="1688" y="343">117</text><text x="1785" y="343">57</text>
<text x="1688" y="384">0.479</text><text x="1785" y="384">0.589</text>
<text x="1688" y="425">0.088</text><text x="1785" y="425">0.112</text>
<text x="1688" y="466">7.388</text><text x="1785" y="466">5.849</text>
<text x="1688" y="507">9</text><text x="1785" y="507">8</text>
<text x="1688" y="548">0.547</text><text x="1785" y="548">0.551</text>
<text x="1688" y="589">3.05</text><text x="1785" y="589">3.179</text>
<text x="1688" y="630">2</text><text x="1785" y="630">1</text>
</g>
<g class="tb">
<text x="1385" y="220">Number of nodes</text>
<text x="1385" y="261">Number of edges</text>
<text x="1385" y="302">Positive edges</text>
<text x="1385" y="343">Negative edges</text>
<text x="1385" y="384">Clustering coefficient</text>
<text x="1385" y="425">Network density</text>
<text x="1385" y="466">Average degree</text>
<text x="1385" y="507">Network Diameter</text>
<text x="1385" y="548">Modularity</text>
<text x="1385" y="589">Average Path Length</text>
<text x="1385" y="630">Connected componets</text>
</g>
</g>
<g id="legend-nodes">
<text class="lg" x="177" y="722">Node color</text>
<line class="rule" x1="166" y1="731" x2="300" y2="731"/>
<circle class="F" cx="179" cy="754" r="13"/><text class="lg" x="202" y="763">Firmicutes</text>
<circle class="P" cx="179" cy="790" r="13"/><text class="lg" x="202" y="799">Proteobacteria</text>
<circle class="B" cx="179" cy="825" r="13"/><text class="lg" x="202" y="834">Bacteroidetes</text>
<circle class="S" cx="403" cy="754" r="13"/><text class="lg" x="426" y="763">Synergistetes</text>
<circle class="W" cx="403" cy="790" r="13"/><text class="lg" x="426" y="799">WWE1</text>
<circle class="C" cx="403" cy="825" r="13"/><text class="lg" x="426" y="834">Chloroflexi</text>
<circle class="Th" cx="617" cy="754" r="13"/><text class="lg" x="640" y="763">Thermotogae</text>
<circle class="A" cx="617" cy="790" r="13"/><text class="lg" x="640" y="799">Actinobacteria</text>
<circle class="T" cx="617" cy="825" r="13"/><text class="lg" x="640" y="834">Tenericutes</text>
<circle class="WP" cx="834" cy="754" r="13"/><text class="lg" x="857" y="763">WPS-2</text>
<circle class="Sp" cx="834" cy="790" r="13"/><text class="lg" x="857" y="799">Spirochaetes</text>
<circle class="O" cx="834" cy="825" r="13"/><text class="lg" x="857" y="834">others</text>
</g>
<g id="legend-edges">
<text class="lg" x="1133" y="722">Edge color</text>
<line class="rule" x1="1133" y1="731" x2="1255" y2="731"/>
<line x1="1133" y1="758" x2="1255" y2="758" stroke="#BB3A3F" stroke-width="2"/>
<text class="lg" x="1268" y="767">Positive edge</text>
<line x1="1133" y1="798" x2="1255" y2="798" stroke="#4FB3DB" stroke-width="2"/>
<text class="lg" x="1268" y="807">Negative edge</text>
</g>
</svg>
